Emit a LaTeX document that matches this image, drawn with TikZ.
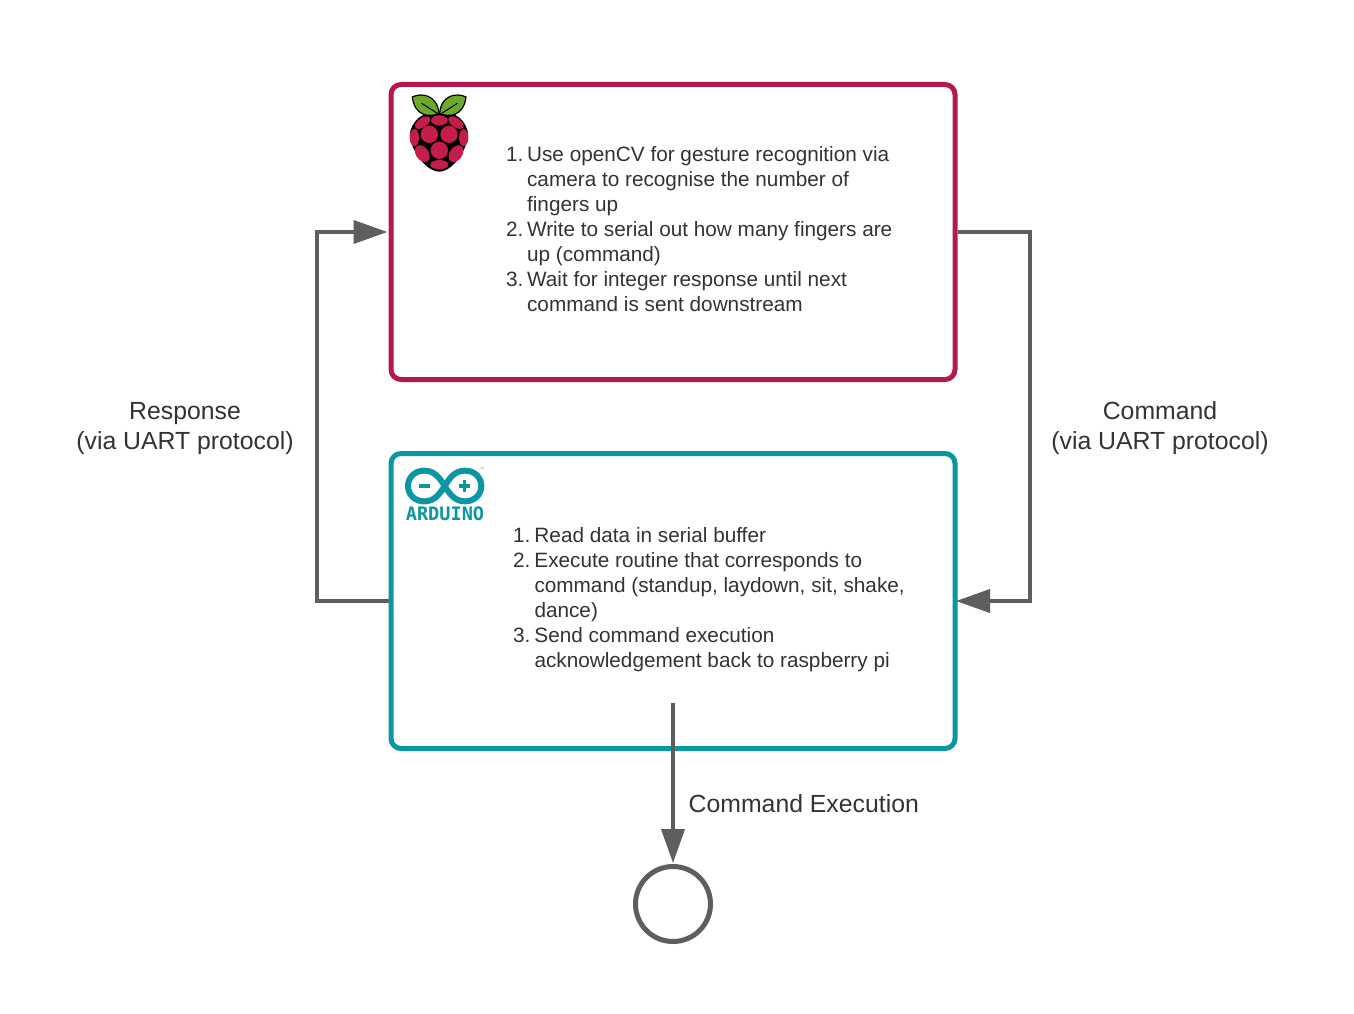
\documentclass[tikz,border=0pt]{standalone}
\usepackage{fontspec}
\setmainfont{Liberation Sans}
\newfontfamily\ardfont{DejaVu Sans Mono}
\usetikzlibrary{arrows.meta}
\definecolor{rpired}{HTML}{B5174F}
\definecolor{ardteal}{HTML}{0B96A3}
\definecolor{linegray}{HTML}{5E5E5E}
\definecolor{inkgray}{HTML}{333333}
\definecolor{leafgreen}{HTML}{6DA82A}
\definecolor{berry}{HTML}{C51D4A}
\tikzset{
  panel/.style={draw=#1,line width=5pt,rounded corners=10pt,minimum width=564pt,minimum height=295pt,fill=white,inner sep=0pt},
  flow/.style={draw=linegray,line width=4pt,-{Triangle[length=34pt,width=23pt]}},
  biglabel/.style={text=inkgray,font=\fontsize{24.8}{30}\selectfont,align=center,inner sep=0pt},
  listtext/.style={text=inkgray,font=\fontsize{20.75}{25}\selectfont,anchor=north west,inner sep=0pt},
  endcircle/.style={circle,draw=linegray,line width=5pt,minimum size=75pt,inner sep=0pt,fill=white},
}
\begin{document}
\begin{tikzpicture}[x=1pt,y=-1pt]
\useasboundingbox[fill=white] (0,0) rectangle (1354,1014);
\node[panel=rpired] (rpi) at (673,232) {};
\node[panel=ardteal] (ard) at (673,601) {};
\node[endcircle] (stop) at (673,904) {};
\coordinate (cmdx) at (1030,400);
\coordinate (respx) at (317,400);
\coordinate (execstart) at (673,703);
% connectors
\draw[flow,shorten >=-1.5pt] (rpi.east) -| (cmdx) |- (ard.east);
\draw[flow,shorten >=1pt] (ard.west) -| (respx) |- (rpi.west);
\draw[flow,shorten >=1pt] (execstart) -- (stop.north);
% list texts
\node[listtext] (rpilist) at (506,143.5) {\setlength{\tabcolsep}{0pt}\begin{tabular}{@{}r@{\hspace{3.6pt}}l@{}}
1.&Use openCV for gesture recognition via\\
&camera to recognise the number of\\
&fingers up\\
2.&Write to serial out how many fingers are\\
&up (command)\\
3.&Wait for integer response until next\\
&command is sent downstream
\end{tabular}};
\node[listtext] (ardlist) at (513,525) {\setlength{\tabcolsep}{0pt}\begin{tabular}{@{}r@{\hspace{4pt}}l@{}}
1.&Read data in serial buffer\\
2.&Execute routine that corresponds to\\
&command (standup, laydown, sit, shake,\\
&dance)\\
3.&Send command execution\\
&acknowledgement back to raspberry pi
\end{tabular}};
% labels
\node[biglabel] (resplabel) at (185,428.5) {Response\\(via UART protocol)};
\node[biglabel] (cmdlabel) at (1160,428.5) {Command\\(via UART protocol)};
\node[biglabel,anchor=west] (execlabel) at (688.5,804) {Command Execution};
% raspberry logo
\begin{scope}[shift={(380,75)},scale=0.3333]
  \fill[black] (178,112) .. controls (215,108) and (250,125) .. (262,165) .. controls (275,200) and (225,290) .. (178,290) .. controls (130,290) and (78,200) .. (92,165) .. controls (105,125) and (140,108) .. (178,112) -- cycle;
  \filldraw[fill=leafgreen,draw=black,line width=1.2pt] (97,66) .. controls (125,52) and (172,60) .. (177,115) .. controls (150,128) and (104,125) .. (97,66) -- cycle;
  \filldraw[fill=leafgreen,draw=black,line width=1.2pt] (258,66) .. controls (230,52) and (183,60) .. (179,115) .. controls (205,128) and (251,125) .. (258,66) -- cycle;
  \draw[black,line width=1pt] (125,85) -- (172,115);
  \draw[black,line width=1pt] (232,85) -- (185,115);
  \fill[berry] (178,136) ellipse [x radius=25,y radius=15];
  \fill[berry,rotate around={35:(128,143)}] (128,143) ellipse [x radius=26,y radius=14];
  \fill[berry,rotate around={-35:(228,143)}] (228,143) ellipse [x radius=26,y radius=14];
  \fill[berry] (148,178) circle (26);
  \fill[berry] (207,178) circle (26);
  \fill[berry] (103,188) ellipse [x radius=14,y radius=26];
  \fill[berry] (251,188) ellipse [x radius=14,y radius=26];
  \fill[berry] (178,226) circle (26);
  \fill[berry,rotate around={35:(127,236)}] (127,236) ellipse [x radius=19,y radius=28];
  \fill[berry,rotate around={-35:(228,236)}] (228,236) ellipse [x radius=19,y radius=28];
  \fill[berry] (178,269) ellipse [x radius=27,y radius=14];
\end{scope}
% arduino logo
\begin{scope}[shift={(380,445)},scale=0.3333]
  \draw[ardteal,line width=6pt] (194,123) .. controls (175,92) and (160,77) .. (132,77) .. controls (104,77) and (84,98) .. (84,123) .. controls (84,148) and (104,169) .. (132,169) .. controls (160,169) and (175,154) .. (194,123) .. controls (213,92) and (228,77) .. (256,77) .. controls (284,77) and (304,98) .. (304,123) .. controls (304,148) and (284,169) .. (256,169) .. controls (228,169) and (213,154) .. (194,123) -- cycle;
  \fill[ardteal] (118,118) rectangle (150,128);
  \fill[ardteal] (236,118) rectangle (270,128);
  \fill[ardteal] (248,106) rectangle (258,140);
\end{scope}
\node[inner sep=0pt,text=ardteal,font=\ardfont\fontsize{18.6}{18.6}\selectfont\bfseries] (ardword) at (445,514) {ARDUINO};
\node[inner sep=0pt,text=ardteal,font=\fontsize{4}{4}\selectfont] (ardtm) at (482,469) {™};
\end{tikzpicture}
\end{document}
